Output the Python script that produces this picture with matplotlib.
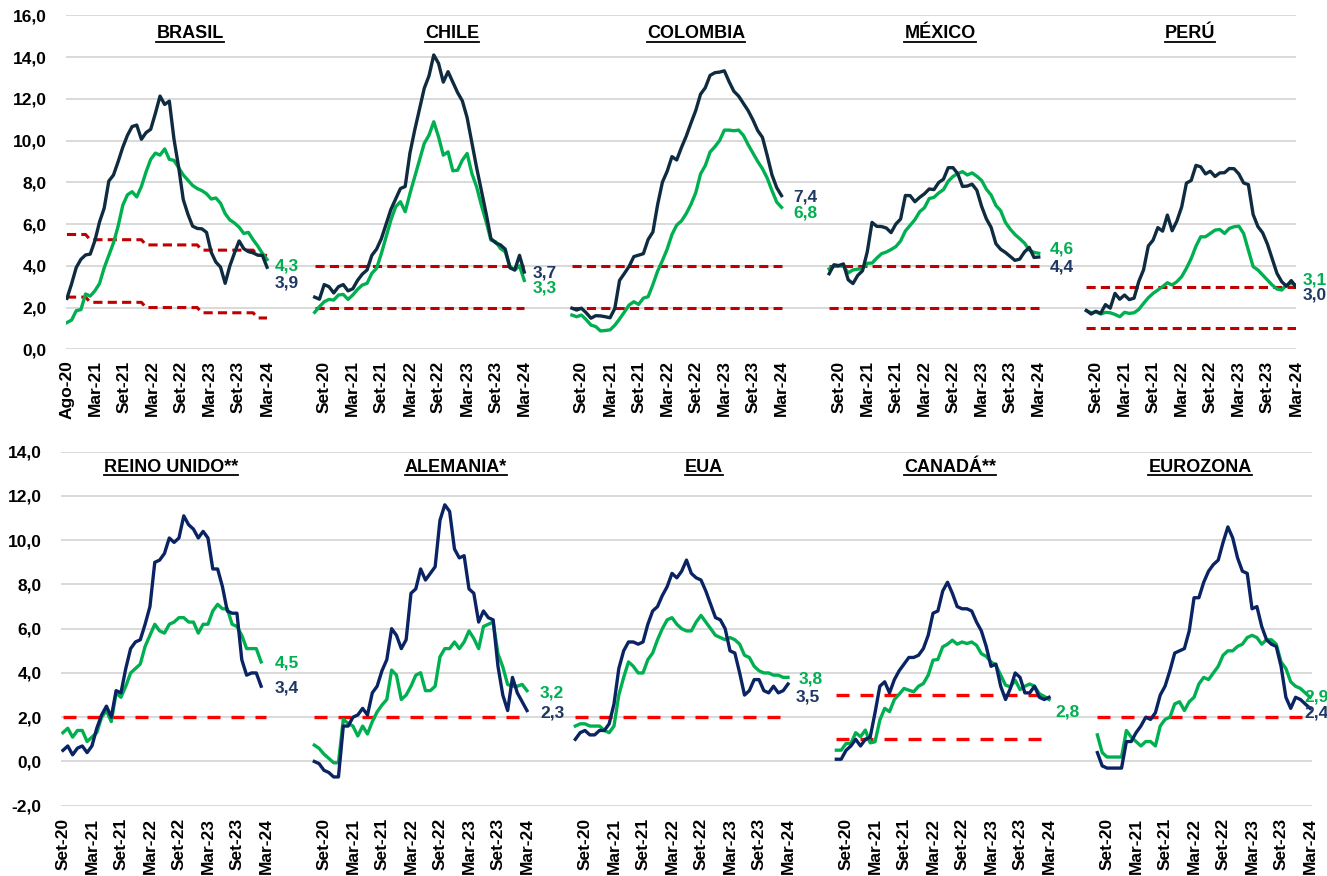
import numpy as np
import matplotlib
matplotlib.use("Agg")
import matplotlib.pyplot as plt
from matplotlib.lines import Line2D

plt.rcParams['font.family'] = ['Liberation Sans', 'DejaVu Sans']
plt.rcParams['font.weight'] = 'bold'

# ---------------- DATA ----------------
tick_labels = ["Set-20", "Mar-21", "Set-21", "Mar-22", "Set-22", "Mar-23", "Set-23", "Mar-24"]
tick_labels_brasil = ["Ago-20", "Mar-21", "Set-21", "Mar-22", "Set-22", "Mar-23", "Set-23", "Mar-24"]

# Top row (Latin America)
brasil_head = [2.44, 3.14, 3.92, 4.31, 4.52, 4.56, 5.20, 6.10, 6.76, 8.06, 8.35, 8.99, 9.68, 10.25, 10.67,
               10.74, 10.06, 10.38, 10.54, 11.30, 12.13, 11.73, 11.89, 10.07, 8.73, 7.17, 6.47, 5.90, 5.79,
               5.77, 5.60, 4.65, 4.18, 3.94, 3.16, 3.99, 4.61, 5.19, 4.82, 4.68, 4.62, 4.51, 4.50, 3.93]
brasil_core = [1.28, 1.4, 1.85, 1.9, 2.65, 2.55, 2.8, 3.15, 3.9, 4.5, 5.1, 5.9, 6.9, 7.4, 7.55, 7.3, 7.8,
               8.5, 9.1, 9.4, 9.3, 9.6, 9.1, 9.05, 8.7, 8.35, 8.1, 7.85, 7.7, 7.6, 7.45, 7.2, 7.25, 7.0,
               6.5, 6.2, 6.05, 5.85, 5.55, 5.6, 5.25, 4.95, 4.6, 4.3]
brasil_upper = [5.5] * 5 + [5.25] * 12 + [5.0] * 12 + [4.75] * 12 + [4.5] * 3
brasil_lower = [2.5] * 5 + [2.25] * 12 + [2.0] * 12 + [1.75] * 12 + [1.5] * 3

chile_head = [2.5, 2.4, 3.1, 3.0, 2.7, 3.0, 3.1, 2.8, 2.9, 3.3, 3.6, 3.8, 4.5, 4.8, 5.3, 6.0, 6.7, 7.2,
              7.7, 7.8, 9.4, 10.5, 11.5, 12.5, 13.1, 14.1, 13.7, 12.8, 13.3, 12.8, 12.3, 11.9, 11.1, 9.9,
              8.7, 7.6, 6.5, 5.3, 5.1, 5.0, 4.8, 3.9, 3.8, 4.5, 3.7]
chile_core = [1.77, 2.04, 2.28, 2.39, 2.36, 2.6, 2.63, 2.39, 2.6, 2.87, 3.08, 3.16, 3.64, 3.88, 4.59,
              5.39, 6.19, 6.83, 7.07, 6.59, 7.46, 8.26, 9.06, 9.86, 10.26, 10.9, 10.18, 9.3, 9.46, 8.55,
              8.58, 9.06, 9.38, 8.42, 7.78, 6.9, 6.11, 5.23, 5.15, 4.83, 4.67, 3.96, 3.8, 4.0, 3.3]

colombia_head = [1.97, 1.88, 1.97, 1.75, 1.49, 1.61, 1.60, 1.56, 1.51, 1.95, 3.30, 3.63, 3.97, 4.44,
                 4.51, 4.58, 5.26, 5.62, 6.94, 8.01, 8.53, 9.23, 9.07, 9.67, 10.21, 10.84, 11.44, 12.22,
                 12.53, 13.12, 13.25, 13.28, 13.34, 12.82, 12.36, 12.13, 11.78, 11.43, 10.99, 10.48,
                 10.15, 9.28, 8.35, 7.74, 7.36]
colombia_core = [1.64, 1.56, 1.64, 1.42, 1.16, 1.09, 0.88, 0.9, 0.93, 1.15, 1.45, 1.78, 2.12, 2.28, 2.15,
                 2.45, 2.52, 3.1, 3.75, 4.25, 4.8, 5.5, 5.95, 6.15, 6.5, 6.95, 7.5, 8.4, 8.8, 9.45, 9.7,
                 10.0, 10.5, 10.5, 10.47, 10.5, 10.25, 9.8, 9.4, 9.0, 8.65, 8.2, 7.6, 7.05, 6.8]

mexico_head = [3.62, 4.05, 4.01, 4.09, 3.33, 3.15, 3.54, 3.76, 4.67, 6.08, 5.89, 5.88, 5.81, 5.59, 6.00,
               6.24, 7.37, 7.36, 7.07, 7.28, 7.45, 7.68, 7.65, 7.99, 8.15, 8.70, 8.70, 8.41, 7.80, 7.82,
               7.91, 7.62, 6.85, 6.25, 5.84, 5.06, 4.79, 4.64, 4.45, 4.26, 4.32, 4.66, 4.88, 4.40, 4.42]
mexico_core = [3.85, 3.97, 3.99, 3.98, 3.66, 3.80, 3.84, 3.87, 4.12, 4.13, 4.37, 4.58, 4.66, 4.78, 4.92,
               5.19, 5.67, 5.94, 6.21, 6.59, 6.78, 7.22, 7.28, 7.49, 7.65, 8.05, 8.28, 8.42, 8.51, 8.35,
               8.45, 8.29, 8.09, 7.67, 7.39, 6.89, 6.64, 6.08, 5.76, 5.50, 5.30, 5.09, 4.76, 4.64, 4.6]

peru_head = [1.86, 1.69, 1.82, 1.72, 2.14, 1.97, 2.68, 2.40, 2.60, 2.38, 2.45, 3.25, 3.81, 4.95, 5.23,
             5.83, 5.66, 6.43, 5.68, 6.15, 6.82, 7.96, 8.09, 8.81, 8.74, 8.40, 8.53, 8.28, 8.45, 8.46,
             8.66, 8.65, 8.40, 7.97, 7.89, 6.46, 5.88, 5.58, 5.04, 4.34, 3.64, 3.24, 3.02, 3.29, 3.0]
peru_core = [1.85, 1.75, 1.8, 1.69, 1.77, 1.75, 1.67, 1.56, 1.77, 1.72, 1.75, 1.91, 2.2, 2.47, 2.68,
             2.84, 3.0, 3.19, 3.08, 3.24, 3.48, 3.88, 4.35, 4.94, 5.39, 5.39, 5.55, 5.71, 5.74, 5.55,
             5.79, 5.87, 5.9, 5.55, 4.75, 3.96, 3.8, 3.56, 3.32, 3.08, 2.89, 2.84, 3.08, 3.16, 3.08]

# Bottom row (developed economies)
uk_head = [0.5, 0.7, 0.3, 0.6, 0.7, 0.4, 0.7, 1.5, 2.1, 2.5, 2.0, 3.2, 3.1, 4.2, 5.1, 5.4, 5.5, 6.2,
           7.0, 9.0, 9.1, 9.4, 10.1, 9.9, 10.1, 11.1, 10.7, 10.5, 10.1, 10.4, 10.1, 8.7, 8.7, 7.9, 6.8,
           6.7, 6.7, 4.6, 3.9, 4.0, 4.0, 3.4]
uk_core = [1.3, 1.5, 1.1, 1.4, 1.4, 0.9, 1.1, 1.3, 2.0, 2.3, 1.8, 3.1, 2.9, 3.4, 4.0, 4.2, 4.4, 5.2,
           5.7, 6.2, 5.9, 5.8, 6.2, 6.3, 6.5, 6.5, 6.3, 6.3, 5.8, 6.2, 6.2, 6.8, 7.1, 6.9, 6.9, 6.2,
           6.1, 5.7, 5.1, 5.1, 5.1, 4.5]

germany_head = [0.0, -0.1, -0.4, -0.5, -0.7, -0.7, 1.6, 1.6, 2.0, 2.1, 2.4, 2.1, 3.1, 3.4, 4.1, 4.6,
                6.0, 5.7, 5.1, 5.5, 7.6, 7.8, 8.7, 8.2, 8.5, 8.8, 10.9, 11.6, 11.3, 9.6, 9.2, 9.3, 7.8,
                7.6, 6.3, 6.8, 6.5, 6.4, 4.3, 3.0, 2.3, 3.8, 3.1, 2.7, 2.3]
germany_core = [0.74, 0.59, 0.33, 0.14, -0.06, -0.06, 1.9, 1.72, 1.6, 1.15, 1.6, 1.24, 1.8, 2.24, 2.55,
                2.8, 4.13, 3.9, 2.8, 3.0, 3.4, 3.9, 4.01, 3.2, 3.2, 3.4, 4.73, 5.1, 5.1, 5.4, 5.1, 5.4,
                5.9, 5.56, 5.1, 6.1, 6.2, 6.3, 4.87, 4.27, 3.48, 3.4, 3.4, 3.48, 3.2]

usa_head = [1.0, 1.3, 1.4, 1.2, 1.2, 1.4, 1.4, 1.7, 2.6, 4.2, 5.0, 5.4, 5.4, 5.3, 5.4, 6.2, 6.8, 7.0,
            7.5, 7.9, 8.5, 8.3, 8.6, 9.1, 8.5, 8.3, 8.2, 7.7, 7.1, 6.5, 6.4, 6.0, 5.0, 4.9, 4.0, 3.0,
            3.2, 3.7, 3.7, 3.2, 3.1, 3.4, 3.1, 3.2, 3.5]
usa_core = [1.6, 1.7, 1.7, 1.6, 1.6, 1.6, 1.4, 1.3, 1.6, 3.0, 3.8, 4.5, 4.3, 4.0, 4.0, 4.6, 4.9, 5.5,
            6.0, 6.4, 6.5, 6.2, 6.0, 5.9, 5.9, 6.3, 6.6, 6.3, 6.0, 5.7, 5.6, 5.5, 5.6, 5.5, 5.3, 4.8,
            4.7, 4.3, 4.1, 4.0, 4.0, 3.9, 3.9, 3.8, 3.8]

canada_head = [0.1, 0.1, 0.5, 0.7, 1.0, 0.7, 1.0, 1.1, 2.2, 3.4, 3.6, 3.1, 3.7, 4.1, 4.4, 4.7, 4.7, 4.8,
               5.1, 5.7, 6.7, 6.8, 7.7, 8.1, 7.6, 7.0, 6.9, 6.9, 6.8, 6.3, 5.9, 5.2, 4.3, 4.4, 3.4, 2.8,
               3.3, 4.0, 3.8, 3.1, 3.1, 3.4, 2.9, 2.8, 2.9]
canada_core = [0.51, 0.51, 0.81, 0.81, 1.3, 1.12, 1.42, 0.84, 0.89, 1.87, 2.4, 2.25, 2.8, 3.04, 3.3,
               3.22, 3.15, 3.4, 3.52, 3.9, 4.58, 4.61, 5.18, 5.3, 5.48, 5.3, 5.4, 5.33, 5.4, 5.25, 4.87,
               4.75, 4.5, 4.35, 3.9, 3.45, 3.37, 3.67, 3.25, 3.4, 3.5, 3.4, 3.06, 2.94, 2.8]

euro_head = [0.4, -0.2, -0.3, -0.3, -0.3, -0.3, 0.9, 0.9, 1.3, 1.6, 2.0, 1.9, 2.2, 3.0, 3.4, 4.1, 4.9,
             5.0, 5.1, 5.9, 7.4, 7.4, 8.1, 8.6, 8.9, 9.1, 9.9, 10.6, 10.1, 9.2, 8.6, 8.5, 6.9, 7.0, 6.1,
             5.5, 5.3, 5.2, 4.3, 2.9, 2.4, 2.9, 2.8, 2.6, 2.4]
euro_core = [1.2, 0.4, 0.2, 0.2, 0.2, 0.2, 1.4, 1.1, 0.9, 0.7, 0.9, 0.9, 0.7, 1.6, 1.9, 2.0, 2.6, 2.7,
             2.3, 2.7, 2.9, 3.5, 3.8, 3.7, 4.0, 4.3, 4.8, 5.0, 5.0, 5.2, 5.3, 5.6, 5.7, 5.6, 5.3, 5.5,
             5.5, 5.3, 4.5, 4.2, 3.6, 3.4, 3.3, 3.1, 2.9]

# target band levels
chile_band = [2.0, 4.0]
colombia_band = [2.0, 4.0]
mexico_band = [2.0, 4.0]
peru_band = [1.0, 3.0]
uk_band = [2.0]
germany_band = [2.0]
usa_band = [2.0]
canada_band = [1.0, 3.0]
euro_band = [2.0]

# ---------------- LAYOUT ----------------
W, H = 1327, 876
fig = plt.figure(figsize=(W / 100, H / 100), dpi=100)
fig.patch.set_facecolor('white')

PERIOD = 54          # months between panel origins (incl. gap)
TICK_STEPS = 6

ax_top = fig.add_axes([66 / W, 1 - 349.3 / H, (1296 - 66) / W, (349.3 - 15.3) / H])
ax_bot = fig.add_axes([61 / W, 1 - 805.7 / H, (1312 - 61) / W, (805.7 - 451.7) / H])

DARK_TOP = '#0F2B40'
NAVY_BOT = '#0A2463'
GREEN = '#00B050'
LABEL_NAVY = '#1F3864'
RED_TOP = '#C00000'
RED_BOT = '#FF0000'

LW = 2.4
BAND_STYLE_TOP = dict(lw=2.2, dashes=(3.0, 1.7))
BAND_STYLE_BOT = dict(lw=2.4, dashes=(3.9, 3.3))

top_panels = [
    dict(name='BRASIL', head=brasil_head, core=brasil_core, start=0, span=42,
         bands=[brasil_upper, brasil_lower], labels=tick_labels_brasil, tx=190,
         lab=[('core', 1.7, 3.99), ('head', 1.7, 3.17)]),
    dict(name='CHILE', head=chile_head, core=chile_core, start=-2, span=None,
         bands=chile_band, labels=tick_labels, tx=452,
         lab=[('head', 1.8, 3.67), ('core', 1.8, 2.96)]),
    dict(name='COLOMBIA', head=colombia_head, core=colombia_core, start=-2, span=None,
         bands=colombia_band, labels=tick_labels, tx=696,
         lab=[('head', 2.4, 7.29), ('core', 2.4, 6.52)]),
    dict(name='MÉXICO', head=mexico_head, core=mexico_core, start=-2, span=None,
         bands=mexico_band, labels=tick_labels, tx=940,
         lab=[('core', 2.4, 4.8), ('head', 2.4, 3.96)]),
    dict(name='PERÚ', head=peru_head, core=peru_core, start=-2, span=None,
         bands=peru_band, labels=tick_labels, tx=1190,
         lab=[('core', 1.3, 3.3), ('head', 1.3, 2.6)]),
]
bot_panels = [
    dict(name='REINO UNIDO**', head=uk_head, core=uk_core, start=0, span=None, band_span=(0, 42),
         bands=uk_band, labels=tick_labels, tx=171,
         lab=[('core', 2.9, 4.47), ('head', 2.9, 3.33)]),
    dict(name='ALEMANIA*', head=germany_head, core=germany_core, start=-2, span=None,
         bands=germany_band, labels=tick_labels, tx=456,
         lab=[('core', 2.7, 3.11), ('head', 2.7, 2.2)]),
    dict(name='EUA', head=usa_head, core=usa_core, start=-2, span=None,
         bands=usa_band, labels=tick_labels, tx=704,
         lab=[('core', 2.3, 3.74), ('head', 1.6, 2.92)]),
    dict(name='CANADÁ**', head=canada_head, core=canada_core, start=-2, span=None,
         bands=canada_band, labels=tick_labels, tx=950,
         lab=[('core', 1.3, 2.24)]),
    dict(name='EUROZONA', head=euro_head, core=euro_core, start=-2, span=None,
         bands=euro_band, labels=tick_labels, tx=1200,
         lab=[('core', -1.2, 2.93), ('head', -1.2, 2.2)]),
]


def fmt(v):
    return f"{v:.1f}".replace('.', ',')


def draw_row(ax, panels, dark, red, band_style, ymin, ymax, xlim, title_y_px, pad):
    ticks, tlabels = [], []
    titles = []
    for i, p in enumerate(panels):
        off = i * PERIOD
        n = len(p['head'])
        if p['span'] is not None:
            x = off + np.linspace(0, p['span'], n)
        else:
            x = off + p['start'] + np.arange(n)
        # bands
        if isinstance(p['bands'][0], list):
            for b in p['bands']:
                ax.plot(x, b, color=red, zorder=2, **band_style)
        else:
            if 'band_span' in p:
                bx = off + np.arange(p['band_span'][0], p['band_span'][1] + 1)
            else:
                bx = x
            for lvl in p['bands']:
                ax.plot(bx, np.full(len(bx), lvl), color=red, zorder=2, **band_style)
        ax.plot(x, p['core'], color=GREEN, lw=LW, zorder=3, solid_joinstyle='round')
        ax.plot(x, p['head'], color=dark, lw=LW, zorder=4, solid_joinstyle='round')
        # end labels
        for which, dx, yy in p['lab']:
            series = p['core'] if which == 'core' else p['head']
            col = GREEN if which == 'core' else LABEL_NAVY
            ax.text(x[-1] + dx, yy, fmt(series[-1]), color=col, fontsize=12.5, fontweight='bold',
                    ha='left', va='center', clip_on=False, zorder=6)
        for k, lab in enumerate(p['labels']):
            ticks.append(off + k * TICK_STEPS)
            tlabels.append(lab)
        t = fig.text(p['tx'] / W, 1 - title_y_px / H, p['name'], ha='center', va='center',
                     fontsize=13, fontweight='bold', color='black')
        titles.append(t)
    ax.set_xlim(*xlim)
    ax.set_ylim(ymin, ymax)
    ax.set_yticks(np.arange(ymin, ymax + 0.1, 2))
    ax.set_yticklabels([fmt(v) for v in np.arange(ymin, ymax + 0.1, 2)])
    ax.set_xticks(ticks)
    ax.set_xticklabels(tlabels, rotation=90)
    ax.tick_params(axis='both', length=0, labelsize=12.5)
    ax.tick_params(axis='x', pad=pad, labelsize=12.5)
    ax.tick_params(axis='y', pad=14)
    for lab in ax.get_xticklabels() + ax.get_yticklabels():
        lab.set_fontweight('bold')
    for s in ax.spines.values():
        s.set_visible(False)
    ax.grid(axis='y', color='#D9D9D9', lw=1.4)
    ax.set_axisbelow(True)
    return titles


titles = draw_row(ax_top, top_panels, DARK_TOP, RED_TOP, BAND_STYLE_TOP, 0, 16, (-0.2, 258), 34, 8)
titles += draw_row(ax_bot, bot_panels, NAVY_BOT, RED_BOT, BAND_STYLE_BOT, -2, 14, (-0.4, 258.4), 467, 9)

# underline titles
fig.canvas.draw()
renderer = fig.canvas.get_renderer()
for t in titles:
    bb = t.get_window_extent(renderer)
    yline = (bb.y0 + 0.5) / H
    fig.add_artist(Line2D([bb.x0 / W, bb.x1 / W], [yline, yline], transform=fig.transFigure,
                          color='black', lw=1.3))

fig.savefig('out.png', dpi=100)
